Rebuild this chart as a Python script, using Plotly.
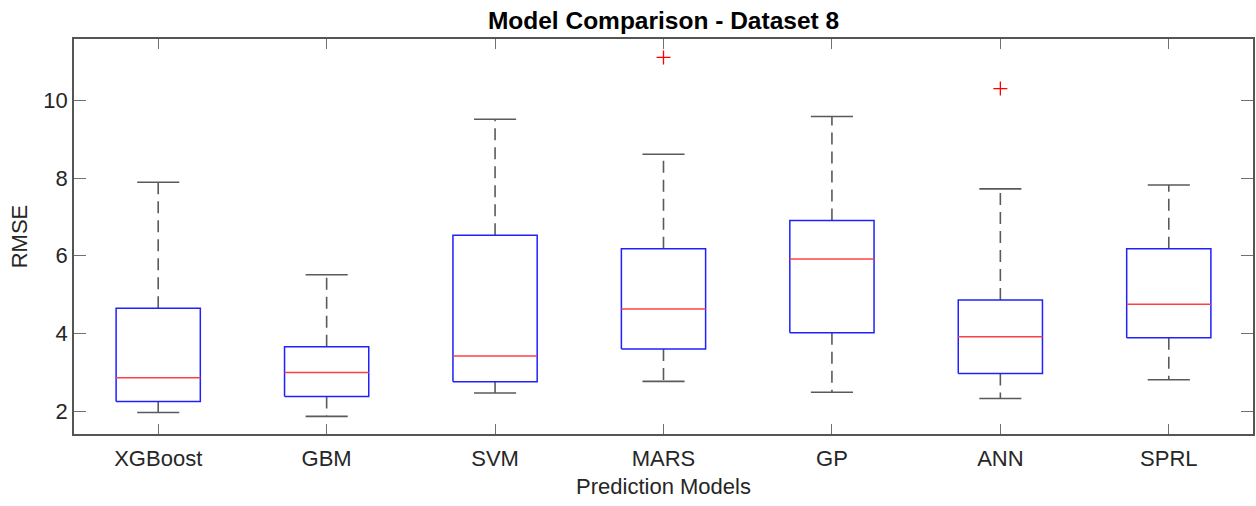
import plotly.graph_objects as go

models = ["XGBoost", "GBM", "SVM", "MARS", "GP", "ANN", "SPRL"]
lower_whisker = [1.97, 1.87, 2.47, 2.77, 2.49, 2.33, 2.81]
q1 = [2.25, 2.38, 2.76, 3.60, 4.02, 2.97, 3.89]
median = [2.86, 3.00, 3.42, 4.63, 5.92, 3.92, 4.75]
q3 = [4.65, 3.66, 6.53, 6.18, 6.91, 4.86, 6.18]
upper_whisker = [7.89, 5.51, 9.51, 8.61, 9.58, 7.72, 7.82]
outlier_model = ["MARS", "ANN"]
outlier_value = [11.10, 10.30]
y_ticks = [2, 4, 6, 8, 10]

BOX_HALF = 0.25
CAP_HALF = 0.125

pos = {m: i + 1 for i, m in enumerate(models)}

wx, wy, cx, cy, bx, by, mx, my = [], [], [], [], [], [], [], []
for m, lo, a, md, b, hi in zip(models, lower_whisker, q1, median, q3, upper_whisker):
    p = pos[m]
    wx += [p, p, None, p, p, None]
    wy += [b, hi, None, a, lo, None]
    cx += [p - CAP_HALF, p + CAP_HALF, None, p - CAP_HALF, p + CAP_HALF, None]
    cy += [hi, hi, None, lo, lo, None]
    bx += [p - BOX_HALF, p + BOX_HALF, p + BOX_HALF, p - BOX_HALF, p - BOX_HALF, None]
    by += [a, a, b, b, a, None]
    mx += [p - BOX_HALF, p + BOX_HALF, None]
    my += [md, md, None]

fig = go.Figure()
fig.add_trace(go.Scatter(x=wx, y=wy, mode="lines", hoverinfo="skip",
                         line=dict(color="#5a5a5a", width=1.6, dash="12px,7px")))
fig.add_trace(go.Scatter(x=cx, y=cy, mode="lines", hoverinfo="skip",
                         line=dict(color="#5a5a5a", width=1.6)))
fig.add_trace(go.Scatter(x=bx, y=by, mode="lines", hoverinfo="skip",
                         line=dict(color="#2020ff", width=1.5)))
fig.add_trace(go.Scatter(x=mx, y=my, mode="lines", hoverinfo="skip",
                         line=dict(color="#ff4040", width=1.5)))
fig.add_trace(go.Scatter(x=[pos[m] for m in outlier_model], y=outlier_value, mode="markers",
                         cliponaxis=False, hoverinfo="skip",
                         marker=dict(symbol="cross-thin", size=10, color="#ff0000",
                                     line=dict(color="#ff0000", width=1.3))))

font = "Liberation Sans, Arial, sans-serif"
fig.update_layout(
    width=1256, height=506,
    margin=dict(l=74, r=1, t=39, b=72),
    paper_bgcolor="white", plot_bgcolor="white",
    showlegend=False,
    font=dict(family=font, size=22, color="#262626"),
    title=dict(text="<b>Model Comparison - Dataset 8</b>", x=0.5, xref="paper",
               xanchor="center", y=1 - 20 / 506, yref="container", yanchor="middle",
               font=dict(family=font, size=24.5, color="#000000")),
)
fig.update_xaxes(
    range=[0.5, 7.5], tickmode="array", tickvals=[pos[m] for m in models], ticktext=models,
    ticks="inside", ticklen=10, tickwidth=1.2, tickcolor="#707070",
    showline=True, linecolor="#555555", linewidth=1.5, mirror="ticks",
    showgrid=False, zeroline=False, ticklabelstandoff=4, layer="below traces",
    title=dict(text="Prediction Models", standoff=8, font=dict(size=22, color="#262626")),
    tickfont=dict(size=22, color="#262626"),
)
fig.update_yaxes(
    range=[1.416, 11.575], tickmode="array", tickvals=y_ticks,
    ticks="inside", ticklen=12, tickwidth=1.2, tickcolor="#707070",
    showline=True, linecolor="#555555", linewidth=1.5, mirror="ticks",
    showgrid=False, zeroline=False, layer="below traces",
    title=dict(text="RMSE", standoff=10, font=dict(size=22, color="#262626")),
    tickfont=dict(size=22, color="#262626"),
)

fig.write_html("out.html")
